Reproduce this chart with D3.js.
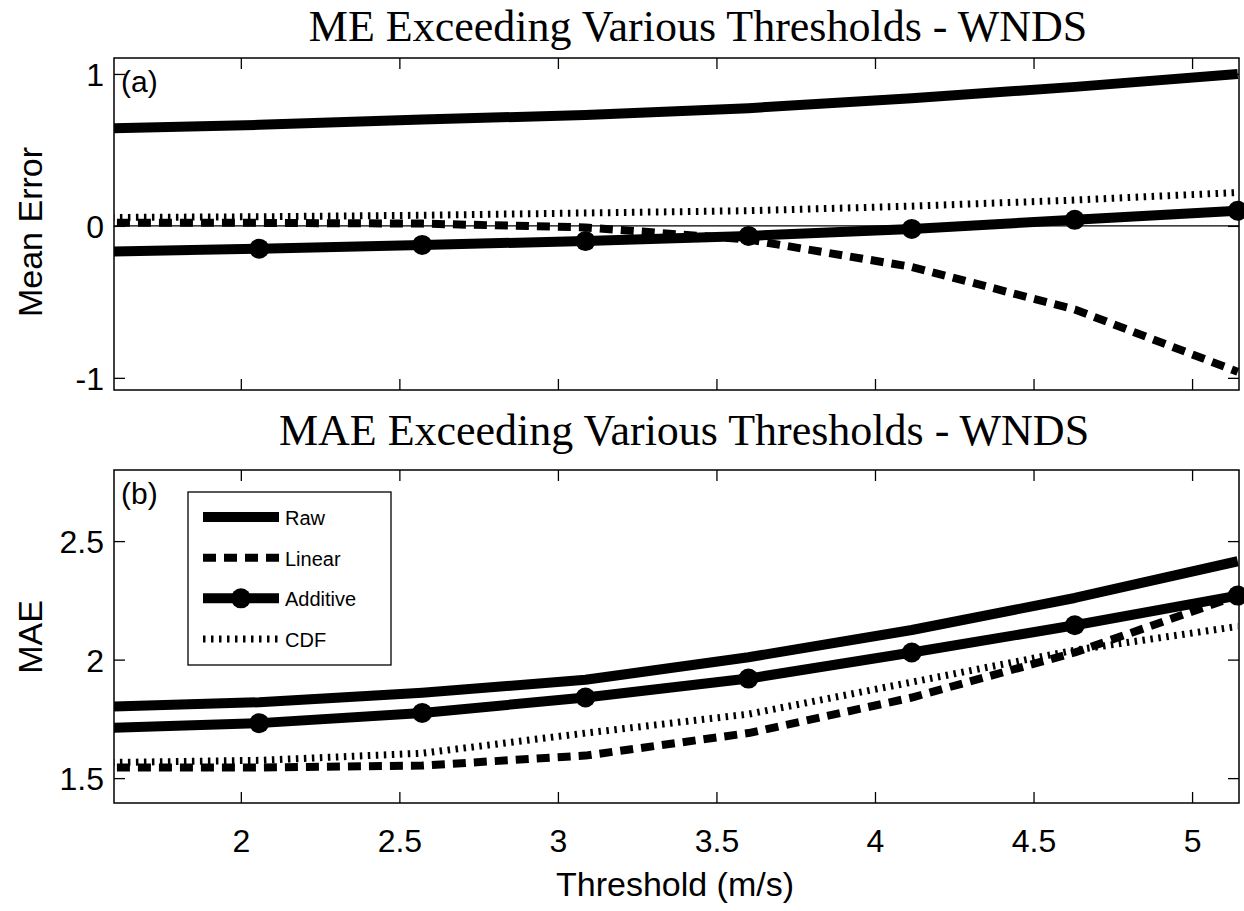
<!DOCTYPE html>
<html>
<head>
<meta charset="utf-8">
<script src="https://cdn.jsdelivr.net/npm/d3@7"></script>
<style>
  body { margin: 0; background: #fff; }
  svg { display: block; }
  .tick text { font-family: "Liberation Sans", Arial, sans-serif; font-size: 32px; fill: #000; }
  .tick line { stroke: #000; stroke-width: 1.3; }
</style>
</head>
<body>
<svg id="chart" width="1244" height="911"></svg>
<script>
// thresholds are whole knots (3..10 kt) in m/s
const thresholds = [1.543, 2.058, 2.572, 3.087, 3.601, 4.116, 4.630, 5.144];
const xTicks = [2, 2.5, 3, 3.5, 4, 4.5, 5];

const meRaw      = [0.64, 0.665, 0.70, 0.73, 0.775, 0.84, 0.915, 1.0];
const meLinear   = [0.02, 0.02, 0.015, -0.01, -0.09, -0.27, -0.55, -0.96];
const meAdditive = [-0.17, -0.15, -0.125, -0.10, -0.066, -0.02, 0.04, 0.10];
const meCdf      = [0.055, 0.06, 0.07, 0.085, 0.10, 0.13, 0.17, 0.22];
const meTicks = [-1, 0, 1];

const maeRaw      = [1.80, 1.82, 1.86, 1.915, 2.01, 2.125, 2.26, 2.415];
const maeLinear   = [1.545, 1.545, 1.553, 1.595, 1.69, 1.84, 2.03, 2.27];
const maeAdditive = [1.71, 1.732, 1.775, 1.84, 1.92, 2.03, 2.145, 2.27];
const maeCdf      = [1.565, 1.575, 1.605, 1.69, 1.77, 1.905, 2.04, 2.14];
const maeTicks = [1.5, 2, 2.5];

const seriesNames = ['Raw', 'Linear', 'Additive', 'CDF'];

const svg = d3.select('#chart');
const left = 114, right = 1239;
const fmt = d => String(d); // plain hyphen minus like the original

const x = d3.scaleLinear().domain([1.6, 5.148]).range([left, right]);

// line styles per series
const styles = {
  Raw:      { width: 10, dash: null },
  Linear:   { width: 8, dash: '13,8' },
  Additive: { width: 10, dash: null, marker: true },
  CDF:      { width: 7, dash: '2.5,5.5' }
};

function drawPanel(opts) {
  const { id, top, bottom, yDomain, yTicks, series, title, titleX, titleY, yLabel, yLabelY, letter, showXLabels, zeroLine } = opts;
  const y = d3.scaleLinear().domain(yDomain).range([bottom, top]);
  const g = svg.append('g');

  g.append('clipPath').attr('id', 'clip-' + id)
    .append('rect').attr('x', left).attr('y', top).attr('width', right - left).attr('height', bottom - top);

  // axes with inward ticks
  const axB = g.append('g').attr('transform', `translate(0,${bottom})`)
    .call(d3.axisBottom(x).tickValues(xTicks).tickSizeInner(-11).tickSizeOuter(0).tickPadding(26)
      .tickFormat(showXLabels ? fmt : () => ''));
  const axT = g.append('g').attr('transform', `translate(0,${top})`)
    .call(d3.axisTop(x).tickValues(xTicks).tickSizeInner(-11).tickSizeOuter(0).tickFormat(() => ''));
  const axL = g.append('g').attr('transform', `translate(${left},0)`)
    .call(d3.axisLeft(y).tickValues(yTicks).tickSizeInner(-11).tickSizeOuter(0).tickPadding(10).tickFormat(fmt));
  const axR = g.append('g').attr('transform', `translate(${right},0)`)
    .call(d3.axisRight(y).tickValues(yTicks).tickSizeInner(-11).tickSizeOuter(0).tickFormat(() => ''));
  [axB, axT, axL, axR].forEach(a => a.select('.domain').remove());
  axL.selectAll('.tick text').attr('dy', '0.36em');

  if (zeroLine) {
    g.append('line').attr('x1', left).attr('x2', right)
      .attr('y1', y(0)).attr('y2', y(0)).attr('stroke', '#000').attr('stroke-width', 1.2);
  }

  const lines = g.append('g').attr('clip-path', `url(#clip-${id})`);
  const lineGen = d3.line().x(d => x(d[0])).y(d => y(d[1]));

  seriesNames.forEach(name => {
    const vals = series[name];
    const pts = thresholds.map((t, i) => [t, vals[i]]);
    const st = styles[name];
    lines.append('path').datum(pts)
      .attr('d', lineGen)
      .attr('fill', 'none')
      .attr('stroke', '#000')
      .attr('stroke-width', st.width)
      .attr('stroke-dasharray', st.dash)
      .attr('stroke-linejoin', 'round');
    if (st.marker) {
      g.append('g').selectAll('circle')
        .data(pts.filter(d => d[0] >= x.domain()[0]))
        .enter().append('circle')
        .attr('cx', d => x(d[0])).attr('cy', d => y(d[1]))
        .attr('r', 10).attr('fill', '#000');
    }
  });

  // box
  g.append('rect').attr('x', left).attr('y', top).attr('width', right - left).attr('height', bottom - top)
    .attr('fill', 'none').attr('stroke', '#000').attr('stroke-width', 1.5);

  g.append('text').attr('x', left + 7).attr('y', top + 34)
    .attr('font-family', 'Liberation Sans, Arial, sans-serif').attr('font-size', 30)
    .text(letter);

  g.append('text').attr('x', titleX).attr('y', titleY).attr('text-anchor', 'middle')
    .attr('font-family', 'Liberation Serif, serif').attr('font-size', 44)
    .text(title);

  g.append('text').attr('transform', `translate(42,${yLabelY}) rotate(-90)`)
    .attr('text-anchor', 'middle')
    .attr('font-family', 'Liberation Sans, Arial, sans-serif').attr('font-size', 34)
    .text(yLabel);

  return y;
}

drawPanel({
  id: 'me', top: 58, bottom: 390, yDomain: [-1.08, 1.105], yTicks: meTicks,
  series: { Raw: meRaw, Linear: meLinear, Additive: meAdditive, CDF: meCdf },
  title: 'ME Exceeding Various Thresholds - WNDS', titleX: 698, titleY: 41,
  yLabel: 'Mean Error', yLabelY: 232, letter: '(a)', showXLabels: false, zeroLine: true
});

drawPanel({
  id: 'mae', top: 470, bottom: 803, yDomain: [1.395, 2.8], yTicks: maeTicks,
  series: { Raw: maeRaw, Linear: maeLinear, Additive: maeAdditive, CDF: maeCdf },
  title: 'MAE Exceeding Various Thresholds - WNDS', titleX: 684, titleY: 445,
  yLabel: 'MAE', yLabelY: 637, letter: '(b)', showXLabels: true, zeroLine: false
});

svg.append('text').attr('x', 675).attr('y', 896).attr('text-anchor', 'middle')
  .attr('font-family', 'Liberation Sans, Arial, sans-serif').attr('font-size', 34)
  .text('Threshold (m/s)');

// legend
const legend = svg.append('g');
legend.append('rect').attr('x', 188).attr('y', 492).attr('width', 203).attr('height', 173)
  .attr('fill', '#fff').attr('stroke', '#000').attr('stroke-width', 1.3);
const legY = d3.scalePoint().domain(seriesNames).range([517, 639]);
seriesNames.forEach(name => {
  const st = styles[name];
  const yy = legY(name);
  legend.append('line').attr('x1', 203).attr('x2', 279).attr('y1', yy).attr('y2', yy)
    .attr('stroke', '#000').attr('stroke-width', st.width).attr('stroke-dasharray', st.dash);
  if (st.marker) legend.append('circle').attr('cx', 241).attr('cy', yy).attr('r', 10).attr('fill', '#000');
  legend.append('text').attr('x', 285).attr('y', yy + 8)
    .attr('font-family', 'Liberation Sans, Arial, sans-serif').attr('font-size', 20)
    .text(name);
});
</script>
</body>
</html>
